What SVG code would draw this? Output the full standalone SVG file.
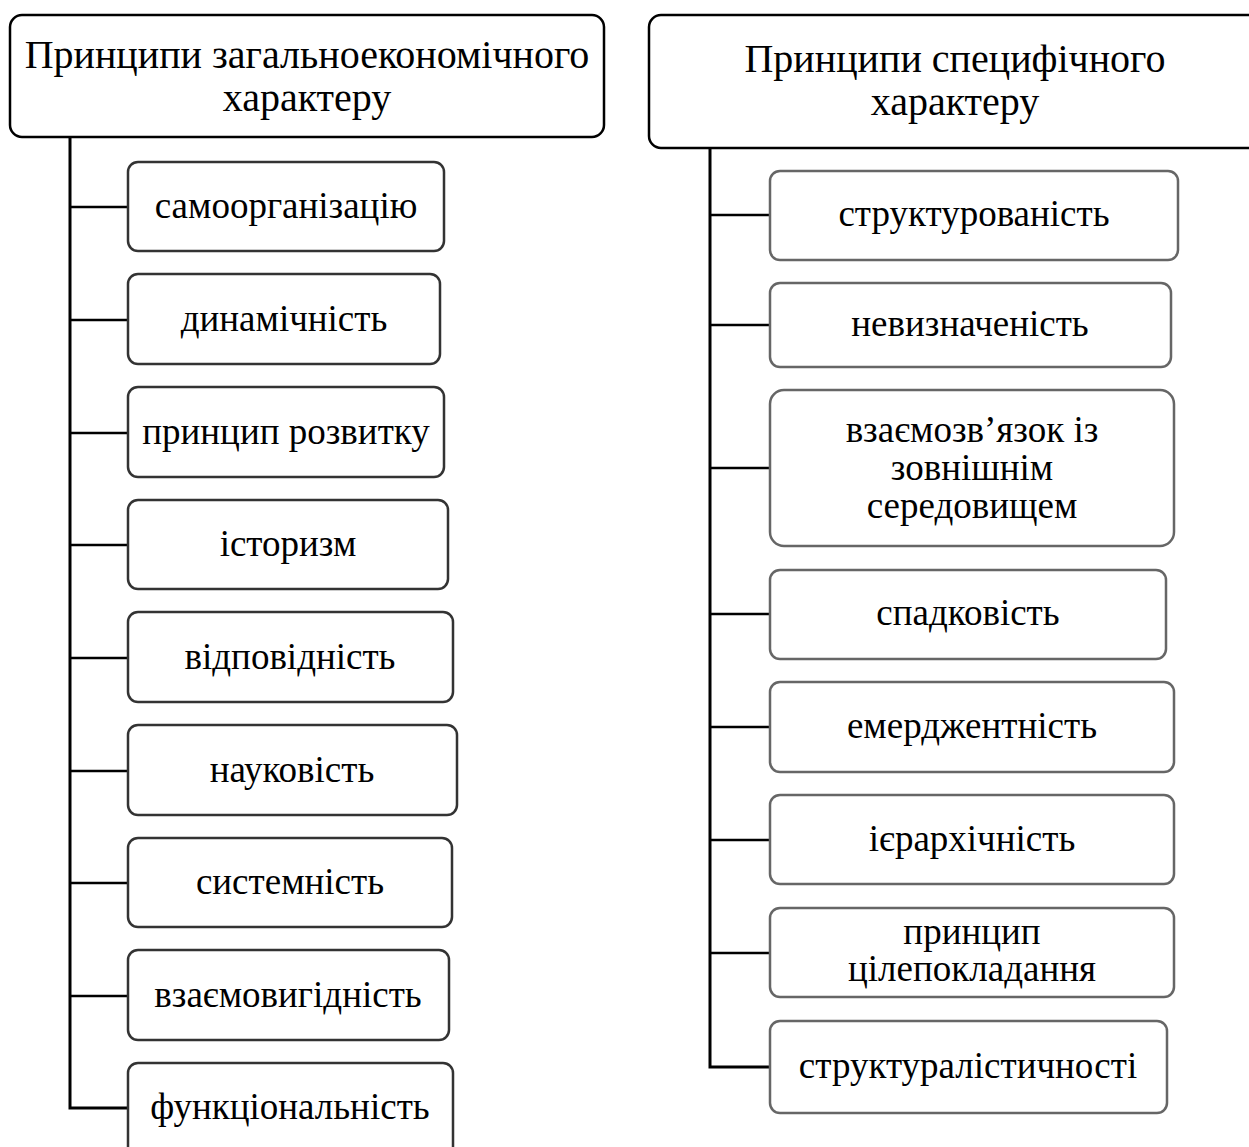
<svg xmlns="http://www.w3.org/2000/svg" width="1249" height="1147" viewBox="0 0 1249 1147">
<style>
text{font-family:"Liberation Serif","Times New Roman",serif;fill:#000;text-anchor:middle}
.h{font-size:40px}
.t{font-size:37px}
.hb{fill:#fff;stroke:#000;stroke-width:2.5}
.lb{fill:#fff;stroke:#333;stroke-width:2.5}
.rb{fill:#fff;stroke:#666;stroke-width:2.5}
.c{fill:none;stroke:#000;stroke-width:2.5}
.v{fill:none;stroke:#000;stroke-width:3}
</style>
<rect width="1249" height="1147" fill="#fff"/>
<g id="connectors">
<path class="v" d="M70,137V1108H128"/>
<path class="c" d="M70,207H128M70,320H128M70,433H128M70,545H128M70,658H128M70,771H128M70,883H128M70,996H128"/>
<path class="v" d="M710,148V1067H770"/>
<path class="c" d="M710,215H770M710,325H770M710,468H770M710,614H770M710,727H770M710,840H770M710,953H770"/>
</g>
<g id="hdr-left"><rect class="hb" x="10" y="15" width="594" height="122" rx="12"/>
<text class="h" x="307" y="68">Принципи загальноекономічного</text><text class="h" x="307" y="111">характеру</text></g>
<g id="hdr-right"><rect class="hb" x="649" y="15" width="620" height="133" rx="12"/>
<text class="h" x="955" y="72">Принципи специфічного</text><text class="h" x="955" y="115">характеру</text></g>
<g id="l1"><rect class="lb" x="128" y="162" width="316" height="89" rx="10"/><text class="t" x="286" y="218">самоорганізацію</text></g>
<g id="l2"><rect class="lb" x="128" y="274" width="312" height="90" rx="10"/><text class="t" x="284" y="331">динамічність</text></g>
<g id="l3"><rect class="lb" x="128" y="387" width="316" height="90" rx="10"/><text class="t" x="286" y="444">принцип розвитку</text></g>
<g id="l4"><rect class="lb" x="128" y="500" width="320" height="89" rx="10"/><text class="t" x="288" y="556">історизм</text></g>
<g id="l5"><rect class="lb" x="128" y="612" width="325" height="90" rx="10"/><text class="t" x="290" y="669">відповідність</text></g>
<g id="l6"><rect class="lb" x="128" y="725" width="329" height="90" rx="10"/><text class="t" x="292" y="782">науковість</text></g>
<g id="l7"><rect class="lb" x="128" y="838" width="324" height="89" rx="10"/><text class="t" x="290" y="894">системність</text></g>
<g id="l8"><rect class="lb" x="128" y="950" width="321" height="90" rx="10"/><text class="t" x="288" y="1007">взаємовигідність</text></g>
<g id="l9"><rect class="lb" x="128" y="1063" width="325" height="100" rx="10"/><text class="t" x="290" y="1119">функціональність</text></g>
<g id="r1"><rect class="rb" x="770" y="171" width="408" height="89" rx="10"/><text class="t" x="974" y="226">структурованість</text></g>
<g id="r2"><rect class="rb" x="770" y="283" width="401" height="84" rx="10"/><text class="t" x="970" y="336">невизначеність</text></g>
<g id="r3"><rect class="rb" x="770" y="390" width="404" height="156" rx="14"/><text class="t" x="972" y="442">взаємозв’язок із</text><text class="t" x="972" y="480">зовнішнім</text><text class="t" x="972" y="518">середовищем</text></g>
<g id="r4"><rect class="rb" x="770" y="570" width="396" height="89" rx="10"/><text class="t" x="968" y="625">спадковість</text></g>
<g id="r5"><rect class="rb" x="770" y="682" width="404" height="90" rx="10"/><text class="t" x="972" y="738">емерджентність</text></g>
<g id="r6"><rect class="rb" x="770" y="795" width="404" height="89" rx="10"/><text class="t" x="972" y="851">ієрархічність</text></g>
<g id="r7"><rect class="rb" x="770" y="908" width="404" height="89" rx="10"/><text class="t" x="972" y="944">принцип</text><text class="t" x="972" y="981">цілепокладання</text></g>
<g id="r8"><rect class="rb" x="770" y="1021" width="397" height="92" rx="10"/><text class="t" x="968" y="1078">структуралістичності</text></g>
</svg>
